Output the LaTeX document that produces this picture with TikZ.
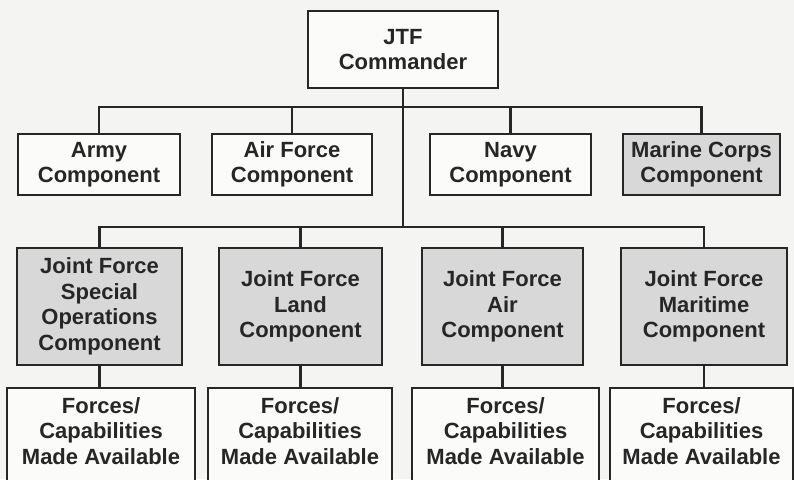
\documentclass[tikz,border=0pt]{standalone}
\usepackage{fontspec}
\setmainfont{Liberation Sans}
\definecolor{bgc}{HTML}{F4F4F2}
\definecolor{boxgray}{HTML}{D8D8D8}
\definecolor{ink}{HTML}{262626}
\begin{document}
\begin{tikzpicture}[x=1pt,y=-1pt,
  box/.style={draw=ink, line width=2.2pt, fill=white!60!bgc, text=ink, align=center,
    inner sep=0pt, font=\bfseries\fontsize{22}{25.5}\selectfont},
  graybox/.style={box, fill=boxgray},
  conn/.style={draw=ink, line width=2.2pt}]
\fill[bgc] (0,0) rectangle (794,479);
\useasboundingbox (0,0) rectangle (794,479);
\begin{scope}
\clip (0,0) rectangle (794,479);
\node[box, minimum width=190pt, minimum height=77pt] (jtf) at (403,49.5) {JTF\\Commander};
\coordinate (b1) at (403,107);
\coordinate (b2) at (403,227);
\node[box, minimum width=162pt, minimum height=61pt] (army) at (99,164.5) {Army\\Component};
\node[box, minimum width=160pt, minimum height=61pt] (airf) at (292,164.5) {Air Force\\Component};
\node[box, minimum width=161pt, minimum height=61pt] (navy) at (510.5,164.5) {Navy\\Component};
\node[graybox, minimum width=157pt, minimum height=61pt] (marine) at (701.5,164.5) {Marine Corps\\Component};
\node[graybox, minimum width=165pt, minimum height=117pt] (jfsoc) at (99.5,306.5) {Joint Force\\Special\\Operations\\Component};
\node[graybox, minimum width=163pt, minimum height=117pt] (jfl) at (300.5,306.5) {Joint Force\\Land\\Component};
\node[graybox, minimum width=161pt, minimum height=117pt] (jfa) at (502.5,306.5) {Joint Force\\Air\\Component};
\node[graybox, minimum width=166pt, minimum height=117pt] (jfm) at (704,306.5) {Joint Force\\Maritime\\Component};
\begin{scope}[every node/.append style={minimum height=98pt, text depth=0pt}]
\node[box, minimum width=188pt, anchor=north] (f1) at (101,387) {\raisebox{0pt}{}};
\node[box, minimum width=184pt, anchor=north] (f2) at (300,387) {};
\node[box, minimum width=187pt, anchor=north] (f3) at (505.5,387) {};
\node[box, minimum width=183pt, anchor=north] (f4) at (701.5,387) {};
\end{scope}
\foreach \f in {f1,f2,f3,f4}{
  \node[text=ink, align=center, inner sep=0pt, font=\bfseries\fontsize{22}{25.5}\selectfont]
    (\f t) at ([yshift=-44pt]\f.north) {Forces/\\Capabilities\\Made Available};
}
\draw[conn] (jtf.south) -- (b2);
\draw[conn] (army.north) |- (b1) -| (marine.north);
\draw[conn] (airf.north) -- (airf.north |- b1);
\draw[conn] (navy.north) -- (navy.north |- b1);
\draw[conn] (jfsoc.north) |- (b2) -| (jfm.north);
\draw[conn] (jfl.north) -- (jfl.north |- b2);
\draw[conn] (jfa.north) -- (jfa.north |- b2);
\draw[conn] (jfsoc.south) -- (jfsoc.south |- f1.north);
\draw[conn] (jfl.south) -- (jfl.south |- f2.north);
\draw[conn] (jfa.south) -- (jfa.south |- f3.north);
\draw[conn] (jfm.south) -- (jfm.south |- f4.north);
\end{scope}
\end{tikzpicture}
\end{document}
